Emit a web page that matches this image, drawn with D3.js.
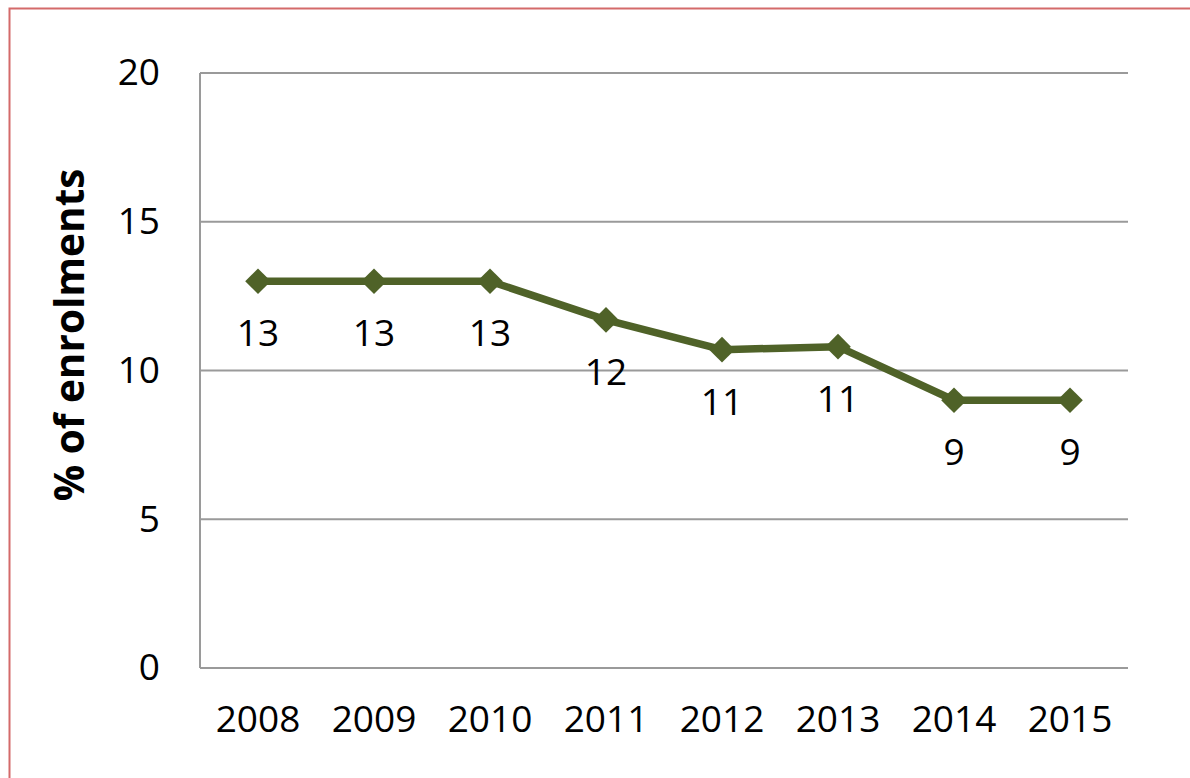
<!DOCTYPE html>
<html>
<head>
<meta charset="utf-8">
<script src="https://cdn.jsdelivr.net/npm/d3@7"></script>
<style>
  html, body { margin: 0; padding: 0; background: #fff; }
  svg { display: block; }
  text { font-family: "Open Sans", "Liberation Sans", sans-serif; fill: #000; }
</style>
</head>
<body>
<svg id="chart" width="1190" height="778"></svg>
<script>
const years = ["2008", "2009", "2010", "2011", "2012", "2013", "2014", "2015"];
const values = [13.0, 13.0, 13.0, 11.7, 10.7, 10.8, 9.0, 9.0];
const dataLabels = ["13", "13", "13", "12", "11", "11", "9", "9"];
const yTicks = [0, 5, 10, 15, 20];
const yTitle = "% of enrolments";

const svg = d3.select("#chart");
const W = 1190, H = 778;
const m = { left: 200, right: 1128, top: 73, bottom: 668 };

// outer border
svg.append("rect")
  .attr("x", 9.5).attr("y", 8.5)
  .attr("width", W + 20).attr("height", H + 20)
  .attr("fill", "none").attr("stroke", "#d46a6a").attr("stroke-width", 2);

const x = d3.scaleBand().domain(years).range([m.left, m.right]).padding(0);
const y = d3.scaleLinear().domain([0, 20]).range([m.bottom, m.top]);
const cx = d => x(d) + x.bandwidth() / 2;

// gridlines
svg.append("g").selectAll("line").data(yTicks).join("line")
  .attr("x1", m.left).attr("x2", m.right)
  .attr("y1", d => y(d)).attr("y2", d => y(d))
  .attr("stroke", "#9a9a9a").attr("stroke-width", 2);

// left axis line
svg.append("line")
  .attr("x1", m.left).attr("x2", m.left)
  .attr("y1", y(20)).attr("y2", y(0))
  .attr("stroke", "#9a9a9a").attr("stroke-width", 2);

// y axis via d3 axis
const yAxis = svg.append("g")
  .attr("transform", `translate(${m.left},0)`)
  .call(d3.axisLeft(y).tickValues(yTicks).tickSize(0).tickPadding(40).tickFormat(d3.format("d")));
yAxis.select(".domain").remove();
yAxis.selectAll("text").style("font-size", "37px").style("font-family", '"Open Sans", "Liberation Sans", sans-serif').attr("fill", "#000");

// x axis
const xAxis = svg.append("g")
  .attr("transform", `translate(0,${m.bottom})`)
  .call(d3.axisBottom(x).tickSize(0).tickPadding(38));
xAxis.select(".domain").remove();
xAxis.selectAll("text").style("font-size", "37px").style("font-family", '"Open Sans", "Liberation Sans", sans-serif').attr("fill", "#000");

// y title
svg.append("text")
  .attr("transform", `translate(84,335) rotate(-90)`)
  .attr("text-anchor", "middle")
  .style("font-size", "40.5px").style("font-weight", "bold")
  .text(yTitle);

const pts = years.map((d, i) => ({ year: d, v: values[i], lab: dataLabels[i] }));

// line
svg.append("path")
  .datum(pts)
  .attr("fill", "none").attr("stroke", "#4f6228").attr("stroke-width", 7.5)
  .attr("stroke-linejoin", "round")
  .attr("d", d3.line().x(d => cx(d.year)).y(d => y(d.v)));

// markers
svg.append("g").selectAll("path").data(pts).join("path")
  .attr("transform", d => `translate(${cx(d.year)},${y(d.v)})`)
  .attr("d", d3.symbol().type(d3.symbolDiamond2).size(420))
  .attr("fill", "#4f6228");

// data labels
svg.append("g").selectAll("text").data(pts).join("text")
  .attr("x", d => cx(d.year))
  .attr("y", d => y(d.v) + 65)
  .attr("text-anchor", "middle")
  .style("font-size", "37px")
  .text(d => d.lab);
</script>
</body>
</html>
